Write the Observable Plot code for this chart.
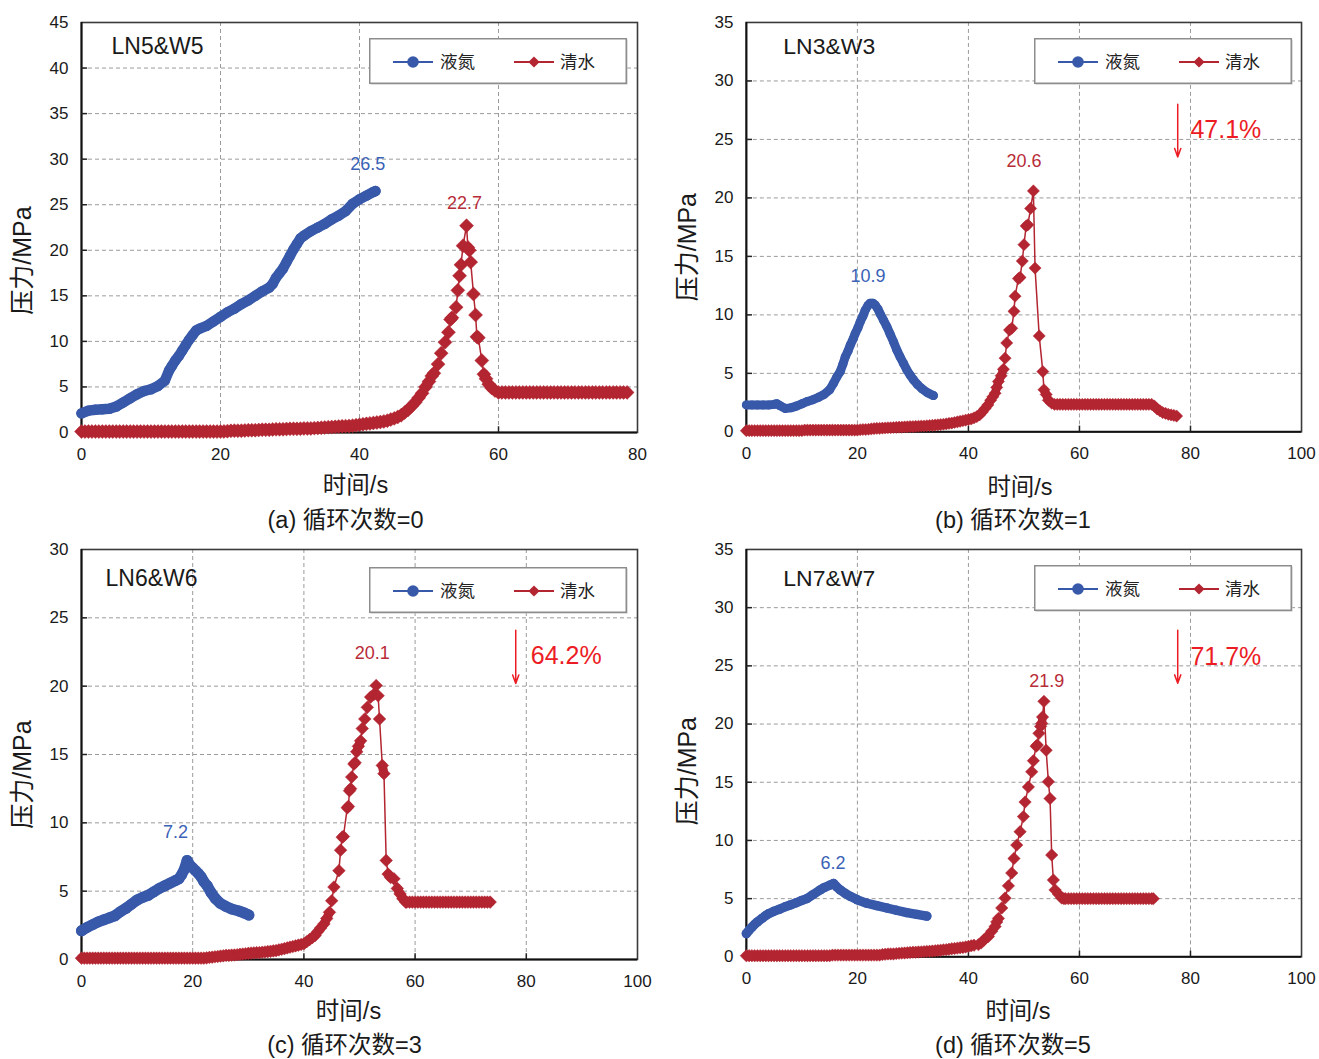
<!DOCTYPE html>
<html><head><meta charset="utf-8">
<script src="https://cdn.jsdelivr.net/npm/d3@7"></script>
<script src="https://cdn.jsdelivr.net/npm/@observablehq/plot@0.6"></script>
<style>
html,body{margin:0;padding:0;background:#fff;overflow:hidden;}
#root{position:relative;width:1319px;height:1059px;}
.panel{position:absolute;}
</style></head>
<body><div id="root"></div>
<script>
// ---------- data (time s, pressure MPa) ----------
const seriesNames = ["液氮", "清水"];
const panelNames = ["LN5&W5", "LN3&W3", "LN6&W6", "LN7&W7"];
const captions = ["(a) 循环次数=0", "(b) 循环次数=1", "(c) 循环次数=3", "(d) 循环次数=5"];
const xTicksA = [0, 20, 40, 60, 80];
const xTicksB = [0, 20, 40, 60, 80, 100];
const yTicksA = [0, 5, 10, 15, 20, 25, 30, 35, 40, 45];
const yTicksB = [0, 5, 10, 15, 20, 25, 30, 35];
const yTicksC = [0, 5, 10, 15, 20, 25, 30];

const aLN = [[0,2.1],[1,2.4],[2,2.5],[3,2.55],[4,2.6],[5,2.85],[6,3.3],[7,3.75],[8,4.2],[9,4.55],[10,4.75],[11,5.1],[12,5.7],[12.6,6.8],[13,7.3],[13.5,7.9],[14,8.4],[14.5,9.0],[15,9.6],[15.5,10.2],[16,10.7],[16.5,11.2],[17,11.4],[18,11.7],[19,12.2],[20,12.7],[21,13.2],[22,13.6],[23,14.1],[24,14.5],[25,15.0],[26,15.5],[27,15.9],[27.5,16.3],[28,17.0],[28.5,17.5],[29,18.0],[29.5,18.7],[30,19.4],[30.5,20.1],[31,20.7],[31.5,21.3],[32,21.6],[33,22.1],[34,22.5],[35,22.9],[36,23.4],[37,23.8],[38,24.3],[39,25.1],[40,25.6],[41,26.0],[42,26.4],[42.3,26.5]];
const aW = [[0,0.1],[0.5,0.1],[1,0.1],[1.5,0.1],[2,0.1],[2.5,0.1],[3,0.1],[3.5,0.1],[4,0.1],[4.5,0.1],[5,0.1],[5.5,0.1],[6,0.1],[6.5,0.1],[7,0.1],[7.5,0.1],[8,0.1],[8.5,0.1],[9,0.1],[9.5,0.1],[10,0.1],[10.5,0.1],[11,0.1],[11.5,0.1],[12,0.1],[12.5,0.1],[13,0.1],[13.5,0.1],[14,0.1],[14.5,0.1],[15,0.1],[15.5,0.1],[16,0.1],[16.5,0.1],[17,0.1],[17.5,0.1],[18,0.1],[18.5,0.1],[19,0.1],[19.5,0.1],[20,0.1],[20.5,0.12],[21,0.15],[21.5,0.18],[22,0.2],[22.5,0.2],[23,0.2],[23.5,0.22],[24,0.25],[24.5,0.25],[25,0.25],[25.5,0.28],[26,0.3],[26.5,0.3],[27,0.3],[27.5,0.33],[28,0.35],[28.5,0.35],[29,0.35],[29.5,0.38],[30,0.4],[30.5,0.4],[31,0.4],[31.5,0.42],[32,0.45],[32.5,0.45],[33,0.45],[33.5,0.48],[34,0.5],[34.5,0.52],[35,0.55],[35.5,0.58],[36,0.6],[36.5,0.62],[37,0.65],[37.5,0.68],[38,0.7],[38.5,0.72],[39,0.75],[39.5,0.8],[40,0.85],[40.5,0.9],[41,0.95],[41.5,1.0],[42,1.05],[42.5,1.1],[43,1.15],[43.5,1.22],[44,1.3],[44.5,1.42],[45,1.55],[45.5,1.7],[46,1.9],[46.5,2.2],[47,2.5],[47.5,2.9],[48,3.3],[48.5,3.8],[49,4.3],[49.5,5.0],[50,5.6],[50.4,6.2],[50.7,6.5],[51.3,7.5],[51.75,8.7],[52.3,9.9],[52.8,11.0],[53.1,12.4],[53.3,12.6],[53.9,13.75],[54.15,15.6],[54.4,17.2],[54.6,18.4],[54.9,20.5],[55.4,22.7],[55.6,20.3],[55.8,20.0],[56.0,18.7],[56.4,15.2],[56.7,12.9],[56.9,10.5],[57.1,10.4],[57.6,7.9],[57.9,6.4],[58.2,5.9],[58.6,5.3],[59,4.9],[59.5,4.6],[60,4.4],[60.5,4.4],[61,4.4],[61.5,4.4],[62,4.4],[62.5,4.4],[63,4.4],[63.5,4.4],[64,4.4],[64.5,4.4],[65,4.4],[65.5,4.4],[66,4.4],[66.5,4.4],[67,4.4],[67.5,4.4],[68,4.4],[68.5,4.4],[69,4.4],[69.5,4.4],[70,4.4],[70.5,4.4],[71,4.4],[71.5,4.4],[72,4.4],[72.5,4.4],[73,4.4],[73.5,4.4],[74,4.4],[74.5,4.4],[75,4.4],[75.5,4.4],[76,4.4],[76.5,4.4],[77,4.4],[77.5,4.4],[78,4.4],[78.5,4.4]];

const bLN = [[0,2.3],[1,2.3],[2,2.3],[3,2.3],[4,2.3],[5,2.35],[5.5,2.4],[6,2.25],[7,2.0],[8,2.05],[9,2.2],[10,2.4],[11,2.6],[12,2.75],[13,2.95],[14,3.2],[15,3.6],[15.7,4.15],[16.3,4.7],[16.9,5.15],[17.4,5.8],[17.8,6.4],[18.3,6.9],[18.7,7.4],[19.2,7.9],[19.6,8.4],[20.1,8.9],[20.5,9.4],[21,9.9],[21.4,10.4],[21.9,10.8],[22.3,11.0],[22.8,11.0],[23.2,10.85],[23.7,10.5],[24.1,10.1],[24.7,9.55],[25.3,9.0],[25.9,8.35],[26.5,7.7],[27.1,7.0],[27.7,6.4],[28.3,5.85],[28.9,5.3],[29.5,4.85],[30.1,4.45],[30.8,4.05],[31.6,3.7],[32.6,3.35],[33.7,3.1]];
const bW = [[0,0.1],[0.5,0.1],[1,0.1],[1.5,0.1],[2,0.1],[2.5,0.1],[3,0.1],[3.5,0.1],[4,0.1],[4.5,0.1],[5,0.1],[5.5,0.1],[6,0.1],[6.5,0.1],[7,0.1],[7.5,0.1],[8,0.1],[8.5,0.1],[9,0.1],[9.5,0.1],[10,0.1],[10.5,0.15],[11,0.15],[11.5,0.15],[12,0.15],[12.5,0.15],[13,0.15],[13.5,0.15],[14,0.15],[14.5,0.15],[15,0.15],[15.5,0.15],[16,0.15],[16.5,0.15],[17,0.15],[17.5,0.15],[18,0.15],[18.5,0.15],[19,0.15],[19.5,0.15],[20,0.15],[20.5,0.18],[21,0.2],[21.5,0.2],[22,0.22],[22.5,0.25],[23,0.28],[23.5,0.3],[24,0.3],[24.5,0.32],[25,0.33],[25.5,0.35],[26,0.35],[26.5,0.37],[27,0.38],[27.5,0.4],[28,0.4],[28.5,0.42],[29,0.43],[29.5,0.45],[30,0.45],[30.5,0.47],[31,0.48],[31.5,0.5],[32,0.5],[32.5,0.52],[33,0.54],[33.5,0.56],[34,0.58],[34.5,0.6],[35,0.62],[35.5,0.65],[36,0.68],[36.5,0.72],[37,0.75],[37.5,0.8],[38,0.85],[38.5,0.9],[39,0.95],[39.5,1.0],[40,1.05],[40.5,1.1],[41,1.2],[41.5,1.3],[42,1.45],[42.5,1.7],[43,2.0],[43.5,2.3],[44,2.7],[44.4,3.0],[44.8,3.3],[45.1,3.8],[45.4,4.3],[45.9,4.8],[46.3,5.35],[46.6,6.3],[46.9,7.6],[47.4,8.7],[47.8,8.85],[48.2,10.3],[48.4,11.6],[49.0,13.1],[49.3,13.2],[49.7,14.6],[50.0,16.0],[50.4,17.6],[50.7,17.7],[51.2,19.1],[51.7,20.6],[52.0,14.0],[52.75,8.2],[53.4,5.15],[53.6,3.6],[54.0,3.2],[54.4,2.7],[55.0,2.45],[55.5,2.35],[56,2.35],[56.5,2.35],[57,2.35],[57.5,2.35],[58,2.35],[58.5,2.35],[59,2.35],[59.5,2.35],[60,2.35],[60.5,2.35],[61,2.35],[61.5,2.35],[62,2.35],[62.5,2.35],[63,2.35],[63.5,2.35],[64,2.35],[64.5,2.35],[65,2.35],[65.5,2.35],[66,2.35],[66.5,2.35],[67,2.35],[67.5,2.35],[68,2.35],[68.5,2.35],[69,2.35],[69.5,2.35],[70,2.35],[70.5,2.35],[71,2.35],[71.5,2.35],[72,2.35],[72.5,2.35],[73,2.35],[73.5,2.2],[74,1.95],[74.5,1.8],[75,1.65],[75.5,1.58],[76,1.5],[76.5,1.45],[77,1.4],[77.5,1.35]];

const cLN = [[0,2.1],[1,2.35],[2,2.55],[3,2.75],[4,2.9],[5,3.05],[6,3.2],[7,3.5],[8,3.75],[9,4.05],[10,4.35],[11,4.55],[12,4.7],[13,4.95],[14,5.2],[15,5.4],[16,5.6],[17,5.8],[17.5,5.9],[18,6.2],[18.5,6.6],[19,7.25],[19.5,6.9],[20,6.7],[20.5,6.5],[21,6.3],[21.5,6.05],[22,5.7],[22.6,5.4],[23.3,4.9],[24.1,4.45],[25,4.1],[25.9,3.9],[27,3.7],[28.3,3.55],[29.3,3.4],[30.1,3.25]];
const cW = [[0,0.1],[0.5,0.1],[1,0.1],[1.5,0.1],[2,0.1],[2.5,0.1],[3,0.1],[3.5,0.1],[4,0.1],[4.5,0.1],[5,0.1],[5.5,0.1],[6,0.1],[6.5,0.1],[7,0.1],[7.5,0.1],[8,0.1],[8.5,0.1],[9,0.1],[9.5,0.1],[10,0.1],[10.5,0.1],[11,0.1],[11.5,0.1],[12,0.1],[12.5,0.1],[13,0.1],[13.5,0.1],[14,0.1],[14.5,0.1],[15,0.1],[15.5,0.1],[16,0.1],[16.5,0.1],[17,0.1],[17.5,0.1],[18,0.1],[18.5,0.1],[19,0.1],[19.5,0.1],[20,0.1],[20.5,0.1],[21,0.1],[21.5,0.1],[22,0.1],[22.5,0.12],[23,0.15],[23.5,0.17],[24,0.2],[24.5,0.22],[25,0.25],[25.5,0.27],[26,0.3],[26.5,0.3],[27,0.32],[27.5,0.33],[28,0.35],[28.5,0.38],[29,0.4],[29.5,0.42],[30,0.45],[30.5,0.47],[31,0.48],[31.5,0.5],[32,0.5],[32.5,0.53],[33,0.55],[33.5,0.58],[34,0.6],[34.5,0.63],[35,0.65],[35.5,0.7],[36,0.75],[36.5,0.8],[37,0.85],[37.5,0.9],[38,0.95],[38.5,1.0],[39,1.05],[39.5,1.1],[40,1.15],[40.5,1.3],[41,1.45],[41.5,1.6],[42,1.75],[42.5,2.05],[43,2.3],[43.6,2.6],[44.1,3.0],[44.6,3.45],[45.0,4.3],[45.4,5.3],[46.3,6.5],[46.6,8.0],[46.9,8.95],[47.1,9.0],[47.8,11.1],[48.0,11.2],[48.2,12.35],[48.4,12.5],[48.6,13.35],[49.0,14.3],[49.2,14.4],[49.5,15.2],[49.8,15.6],[50.2,16.0],[50.5,16.9],[50.95,17.6],[51.4,18.45],[52.0,19.2],[52.6,19.4],[53.0,20.05],[53.35,19.3],[53.6,17.6],[54.1,14.2],[54.4,13.6],[54.8,7.25],[55.15,6.25],[55.6,6.0],[56.2,5.9],[56.8,5.2],[57.3,4.8],[57.8,4.45],[58.3,4.2],[58.5,4.2],[59,4.2],[59.5,4.2],[60,4.2],[60.5,4.2],[61,4.2],[61.5,4.2],[62,4.2],[62.5,4.2],[63,4.2],[63.5,4.2],[64,4.2],[64.5,4.2],[65,4.2],[65.5,4.2],[66,4.2],[66.5,4.2],[67,4.2],[67.5,4.2],[68,4.2],[68.5,4.2],[69,4.2],[69.5,4.2],[70,4.2],[70.5,4.2],[71,4.2],[71.5,4.2],[72,4.2],[72.5,4.2],[73,4.2],[73.5,4.2]];

const dLN = [[0,2.0],[0.5,2.3],[1,2.55],[1.5,2.8],[2,3.0],[2.8,3.3],[3.5,3.55],[4,3.7],[4.9,3.9],[6,4.1],[7,4.3],[7.9,4.45],[9,4.65],[10,4.85],[10.9,5.0],[12,5.35],[13.3,5.75],[14,5.95],[15,6.15],[15.7,6.3],[16.3,6.0],[16.9,5.75],[17.8,5.45],[18.7,5.2],[20,4.9],[21.7,4.6],[23.5,4.4],[25.3,4.2],[27,4.0],[28.9,3.8],[30.7,3.65],[32.5,3.5]];
const dW = [[0,0.1],[0.5,0.1],[1,0.1],[1.5,0.1],[2,0.1],[2.5,0.1],[3,0.1],[3.5,0.1],[4,0.1],[4.5,0.1],[5,0.1],[5.5,0.1],[6,0.1],[6.5,0.1],[7,0.1],[7.5,0.1],[8,0.1],[8.5,0.1],[9,0.1],[9.5,0.1],[10,0.1],[10.5,0.1],[11,0.1],[11.5,0.1],[12,0.1],[12.5,0.1],[13,0.1],[13.5,0.1],[14,0.1],[14.5,0.1],[15,0.1],[15.5,0.15],[16,0.15],[16.5,0.15],[17,0.15],[17.5,0.15],[18,0.15],[18.5,0.15],[19,0.15],[19.5,0.15],[20,0.15],[20.5,0.15],[21,0.15],[21.5,0.15],[22,0.15],[22.5,0.15],[23,0.15],[23.5,0.15],[24,0.15],[24.5,0.2],[25,0.22],[25.5,0.25],[26,0.25],[26.5,0.25],[27,0.28],[27.5,0.3],[28,0.32],[28.5,0.33],[29,0.35],[29.5,0.37],[30,0.4],[30.5,0.4],[31,0.42],[31.5,0.43],[32,0.45],[32.5,0.47],[33,0.48],[33.5,0.5],[34,0.52],[34.5,0.55],[35,0.57],[35.5,0.6],[36,0.62],[36.5,0.65],[37,0.7],[37.5,0.72],[38,0.75],[38.5,0.78],[39,0.8],[39.5,0.85],[40,0.9],[40.5,0.95],[41,1.0],[41.8,1.05],[42.3,1.2],[42.8,1.45],[43.2,1.65],[43.6,1.75],[44.2,2.2],[44.8,2.6],[45.1,3.0],[45.4,3.3],[46.0,4.2],[46.6,5.05],[47.2,6.1],[47.8,7.2],[48.2,8.45],[48.7,9.6],[49.3,10.75],[49.9,12.05],[50.2,13.3],[50.8,14.6],[51.4,15.9],[51.7,16.85],[52.2,18.1],[52.4,18.2],[52.7,19.2],[53.0,19.8],[53.2,20.05],[53.35,20.6],[53.6,21.95],[54.0,17.75],[54.4,15.05],[54.7,13.6],[55.0,8.75],[55.3,6.6],[55.6,5.75],[56.2,5.4],[56.8,5.05],[57.2,5.0],[57.5,5.0],[58,5.0],[58.5,5.0],[59,5.0],[59.5,5.0],[60,5.0],[60.5,5.0],[61,5.0],[61.5,5.0],[62,5.0],[62.5,5.0],[63,5.0],[63.5,5.0],[64,5.0],[64.5,5.0],[65,5.0],[65.5,5.0],[66,5.0],[66.5,5.0],[67,5.0],[67.5,5.0],[68,5.0],[68.5,5.0],[69,5.0],[69.5,5.0],[70,5.0],[70.5,5.0],[71,5.0],[71.5,5.0],[72,5.0],[72.5,5.0],[73,5.0],[73.3,5.0]];

// peak value labels [t, p, text, series]
const aLabels = [[41.2, 29.4, "26.5", 0], [55.1, 25.2, "22.7", 1]];
const bLabels = [[21.9, 13.3, "10.9", 0], [50.0, 23.1, "20.6", 1]];
const cLabels = [[16.9, 9.3, "7.2", 0], [52.3, 22.4, "20.1", 1]];
const dLabels = [[15.6, 8.06, "6.2", 0], [54.1, 23.7, "21.9", 1]];
// reduction arrows [t, pFrom, pTo] and texts [t, p, text]
const bArrow = [[77.7, 28.0, 23.5]];
const cArrow = [[78.1, 24.1, 20.2]];
const dArrow = [[77.7, 28.05, 23.5]];
const bPct = [[80.0, 25.8, "47.1%"]];
const cPct = [[80.8, 22.2, "64.2%"]];
const dPct = [[80.0, 25.8, "71.7%"]];

// ---------- styling ----------
const FONT = '"Liberation Sans", Arial, "Noto Sans CJK SC", sans-serif';
const BLUE = "#3859aa";
const RED = "#b22531";
const BLUE_T = "#3a62b6";
const RED_T = "#b82c38";
const PCT = "#ec1c24";

const panels = [
  {left: 0, top: 0, ml: 81, mr: 23, ph: 410, xMax: 80, yMax: 45, xTicks: xTicksA, yTicks: yTicksA,
   ln: aLN, w: aW, labels: aLabels, arrow: [], pct: [], name: panelNames[0], cap: captions[0],
   rLN: 5.2, rW: 6.3, band: 10, nameDx: 30, nameDy: 24, ytDx: -59, xtDx: -4, xtDy: 53, ytDy: 33, capDx: -14, capDy: 88, legTop: 16},
  {left: 660, top: 0, ml: 86, mr: 18, ph: 410, xMax: 100, yMax: 35, xTicks: xTicksB, yTicks: yTicksB,
   ln: bLN, w: bW, labels: bLabels, arrow: bArrow, pct: bPct, name: panelNames[1], cap: captions[1],
   rLN: 4.5, rW: 5.5, band: 8.5, nameDx: 37, nameDy: 24, ytDx: -58, xtDx: -4, xtDy: 56, ytDy: 20, capDx: -11, capDy: 89, legTop: 16},
  {left: 0, top: 527, ml: 81, mr: 23, ph: 410, xMax: 100, yMax: 30, xTicks: xTicksB, yTicks: yTicksC,
   ln: cLN, w: cW, labels: cLabels, arrow: cArrow, pct: cPct, name: panelNames[2], cap: captions[2],
   rLN: 5.5, rW: 5.7, band: 9, nameDx: 24, nameDy: 29, ytDx: -59, xtDx: -11, xtDy: 52, ytDy: 20, capDx: -15, capDy: 86, legTop: 18},
  {left: 660, top: 527, ml: 86, mr: 18, ph: 408, xMax: 100, yMax: 35, xTicks: xTicksB, yTicks: yTicksB,
   ln: dLN, w: dW, labels: dLabels, arrow: dArrow, pct: dPct, name: panelNames[3], cap: captions[3],
   rLN: 4.7, rW: 5.6, band: 8.5, nameDx: 37, nameDy: 29, ytDx: -58, xtDx: -6, xtDy: 55, ytDy: 18, capDx: -11, capDy: 89, legTop: 16}
];

const root = document.getElementById("root");
const H = 532;

panels.forEach(p => {
  const inner = (arr, max) => arr.filter(v => v > 0 && v < max);
  // runs of densely spaced markers merge into a continuous band: split into runs (z)
  const dense = [];
  let run = 0, open = false;
  for (let i = 0; i < p.w.length - 1; i++) {
    const a = p.w[i], b = p.w[i + 1];
    const ok = b[0] - a[0] <= 0.5 && Math.abs(b[1] - a[1]) < 0.6;
    if (ok) {
      if (!open) { run++; dense.push({t: a[0], v: a[1], k: run}); open = true; }
      dense.push({t: b[0], v: b[1], k: run});
    } else open = false;
  }
  const chart = Plot.plot({
    width: 660, height: H,
    marginLeft: p.ml, marginRight: p.mr, marginTop: 22, marginBottom: H - 22 - p.ph,
    style: {fontFamily: FONT, fontSize: "17px", color: "#1a1a1a", background: "transparent", overflow: "visible"},
    x: {domain: [0, p.xMax]},
    y: {domain: [0, p.yMax]},
    marks: [
      Plot.gridX({ticks: inner(p.xTicks, p.xMax), stroke: "#9b9b9b", strokeOpacity: 1, strokeDasharray: "4,3", strokeWidth: 1}),
      Plot.gridY({ticks: inner(p.yTicks, p.yMax), stroke: "#9b9b9b", strokeOpacity: 1, strokeDasharray: "4,3", strokeWidth: 1}),
      Plot.frame({stroke: "#3a3a3a", strokeWidth: 1.6}),
      Plot.ruleX([0], {stroke: "#111", strokeWidth: 2}),
      Plot.ruleY([0], {stroke: "#111", strokeWidth: 2}),
      Plot.ruleY(inner(p.yTicks, p.yMax), {x1: 0, x2: p.xMax * 0.011, stroke: "#222", strokeWidth: 1.5}),
      Plot.ruleX(inner(p.xTicks, p.xMax), {y1: 0, y2: p.yMax * 0.014, stroke: "#222", strokeWidth: 1.5}),
      Plot.axisX({ticks: p.xTicks, tickSize: 0, tickPadding: 15, label: null, fontSize: 17}),
      Plot.axisY({ticks: p.yTicks, tickSize: 0, tickPadding: 13, label: null, fontSize: 17}),
      // series: liquid nitrogen
      Plot.line(p.ln, {x: d => d[0], y: d => d[1], stroke: BLUE, strokeWidth: 2 * p.rLN, strokeLinecap: "round", strokeLinejoin: "round"}),
      Plot.dot(p.ln, {x: d => d[0], y: d => d[1], r: p.rLN, fill: BLUE}),
      // series: water
      Plot.line(p.w, {x: d => d[0], y: d => d[1], stroke: RED, strokeWidth: 1.5}),
      Plot.line(dense, {x: "t", y: "v", z: "k", stroke: RED, strokeWidth: p.band, strokeLinecap: "round", strokeLinejoin: "round"}),
      Plot.dot(p.w, {x: d => d[0], y: d => d[1], r: p.rW, symbol: "diamond2", fill: RED, stroke: RED, strokeWidth: 0.5}),
      // peak labels
      Plot.text(p.labels, {x: d => d[0], y: d => d[1], text: d => d[2], fill: d => d[3] === 0 ? BLUE_T : RED_T, fontSize: 18}),
      // reduction arrow + percentage
      Plot.arrow(p.arrow, {x1: d => d[0], x2: d => d[0], y1: d => d[1], y2: d => d[2], stroke: PCT, strokeWidth: 1.5, headLength: 9, headAngle: 40}),
      Plot.text(p.pct, {x: d => d[0], y: d => d[1], text: d => d[2], fill: PCT, fontSize: 25, textAnchor: "start"}),
      // panel name
      Plot.text([p.name], {frameAnchor: "top-left", dx: p.nameDx, dy: p.nameDy, textAnchor: "start", lineAnchor: "middle", fontSize: 23, fill: "#1a1a1a"}),
      // axis titles and caption
      Plot.text(["时间/s"], {frameAnchor: "bottom", dx: p.xtDx, dy: p.xtDy, textAnchor: "middle", lineAnchor: "middle", fontSize: 23.5, fill: "#1a1a1a"}),
      Plot.text(["压力/MPa"], {frameAnchor: "left", dx: p.ytDx, dy: p.ytDy, rotate: -90, textAnchor: "middle", lineAnchor: "middle", fontSize: 25, fill: "#1a1a1a"}),
      Plot.text([p.cap], {frameAnchor: "bottom", dx: p.capDx, dy: p.capDy, textAnchor: "middle", lineAnchor: "middle", fontSize: 23.5, fill: "#1a1a1a"})
    ]
  });
  const holder = document.createElement("div");
  holder.className = "panel";
  holder.style.left = p.left + "px";
  holder.style.top = p.top + "px";
  holder.appendChild(chart);
  root.appendChild(holder);

  // legend box
  const lx = p.left + p.ml + 288, ly = p.top + 22 + p.legTop;
  const svg = d3.select(root).append("svg")
    .style("position", "absolute").style("left", lx + "px").style("top", ly + "px")
    .attr("width", 260).attr("height", 48)
    .style("font-family", FONT);
  svg.append("rect").attr("x", 1.5).attr("y", 1.5).attr("width", 257).attr("height", 45).attr("fill", "#bdbdbd");
  svg.append("rect").attr("x", 0.75).attr("y", 0.75).attr("width", 256.5).attr("height", 44.5)
    .attr("fill", "#fff").attr("stroke", "#8d8d8d").attr("stroke-width", 1.5);
  const cy = 24;
  svg.append("line").attr("x1", 24).attr("x2", 64).attr("y1", cy).attr("y2", cy).attr("stroke", BLUE).attr("stroke-width", 2);
  svg.append("circle").attr("cx", 44).attr("cy", cy).attr("r", 5.8).attr("fill", BLUE);
  svg.append("text").attr("x", 71).attr("y", cy).attr("dy", "0.35em").attr("font-size", 17.5).attr("fill", "#222").text(seriesNames[0]);
  svg.append("line").attr("x1", 145).attr("x2", 185).attr("y1", cy).attr("y2", cy).attr("stroke", RED).attr("stroke-width", 2);
  svg.append("path").attr("d", d3.symbol(d3.symbolDiamond2, 80)()).attr("transform", `translate(165,${cy})`).attr("fill", RED);
  svg.append("text").attr("x", 191).attr("y", cy).attr("dy", "0.35em").attr("font-size", 17.5).attr("fill", "#222").text(seriesNames[1]);
});
</script>
</body></html>
